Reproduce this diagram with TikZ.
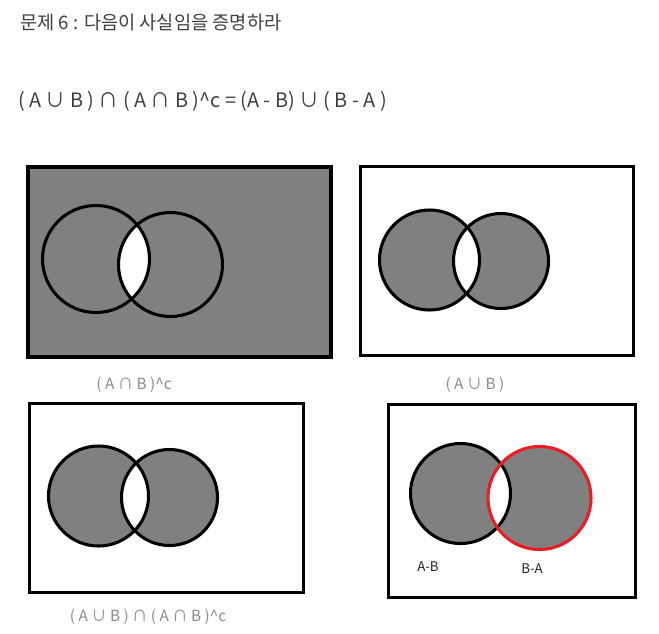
\documentclass[tikz,border=0pt]{standalone}
\usepackage{fontspec}
\setmainfont{Noto Sans CJK KR}
\definecolor{fillgray}{HTML}{808080}
\definecolor{titlegray}{HTML}{3F3F3F}
\definecolor{labelgray}{HTML}{8A8A8A}
\definecolor{paintred}{HTML}{ED1C24}
\tikzset{
  frame/.style={draw=black, line width=2.6pt},
  ring/.style={draw=black, line width=2.3pt},
  redring/.style={draw=paintred, line width=2.3pt},
  txt/.style={inner sep=0pt, text=titlegray},
  caption/.style={inner sep=0pt, text=labelgray, font=\fontsize{11.5}{13}\selectfont},
  setlabel/.style={inner sep=0pt, text=black!85, font=\fontsize{10}{12}\selectfont}
}
\begin{document}
\begin{tikzpicture}[x=0.75pt,y=-0.75pt]
\useasboundingbox[fill=white] (0,0) rectangle (659,633);

% titles
\node[txt, anchor=west, font=\fontsize{14}{16}\selectfont] (title) at (20,23) {문제 6 : 다음이 사실임을 증명하라};
\node[txt, anchor=west, font=\fontsize{14.9}{17}\selectfont] (eq) at (18,101) {( A ∪ B ) ∩ ( A ∩ B )\^{}c = (A - B) ∪ ( B - A )};

% panel 1 : (A n B)^c
\fill[fillgray] (28,167) rectangle (331,357);
\begin{scope}
  \clip (96,259) circle (53.5);
  \fill[white] (170.5,264.5) circle (52);
\end{scope}
\draw[ring] (96,259) circle (53.5);
\draw[ring] (170.5,264.5) circle (52);
\draw[frame] (28,167) rectangle (331,357);
\node[caption] (cap1) at (134,385) {( A ∩ B )\^{}c};

% panel 2 : A u B
\fill[fillgray, even odd rule] (429.5,260) circle (50) (501,261) circle (47.5);
\draw[ring] (429.5,260) circle (50);
\draw[ring] (501,261) circle (47.5);
\draw[frame] (360.5,166.5) rectangle (633.5,355.5);
\node[caption] (cap2) at (475,385) {( A ∪ B )};

% panel 3
\fill[fillgray, even odd rule] (98.5,496) circle (50) (169.5,497.5) circle (48);
\draw[ring] (98.5,496) circle (50);
\draw[ring] (169.5,497.5) circle (48);
\draw[frame] (29.5,403.5) rectangle (303.5,592.5);
\node[caption] (cap3) at (148,617) {( A ∪ B ) ∩ ( A ∩ B )\^{}c};

% panel 4
\fill[fillgray, even odd rule] (460.5,493.5) circle (50) (539.5,498) circle (51.5);
\draw[ring] (460.5,493.5) circle (50);
\draw[redring] (539.5,498) circle (51.5);
\draw[frame] (388.5,404.5) rectangle (635.5,597.5);
\node[setlabel] (amb) at (428,567) {A-B};
\node[setlabel] (bma) at (532,569) {B-A};
\end{tikzpicture}
\end{document}
